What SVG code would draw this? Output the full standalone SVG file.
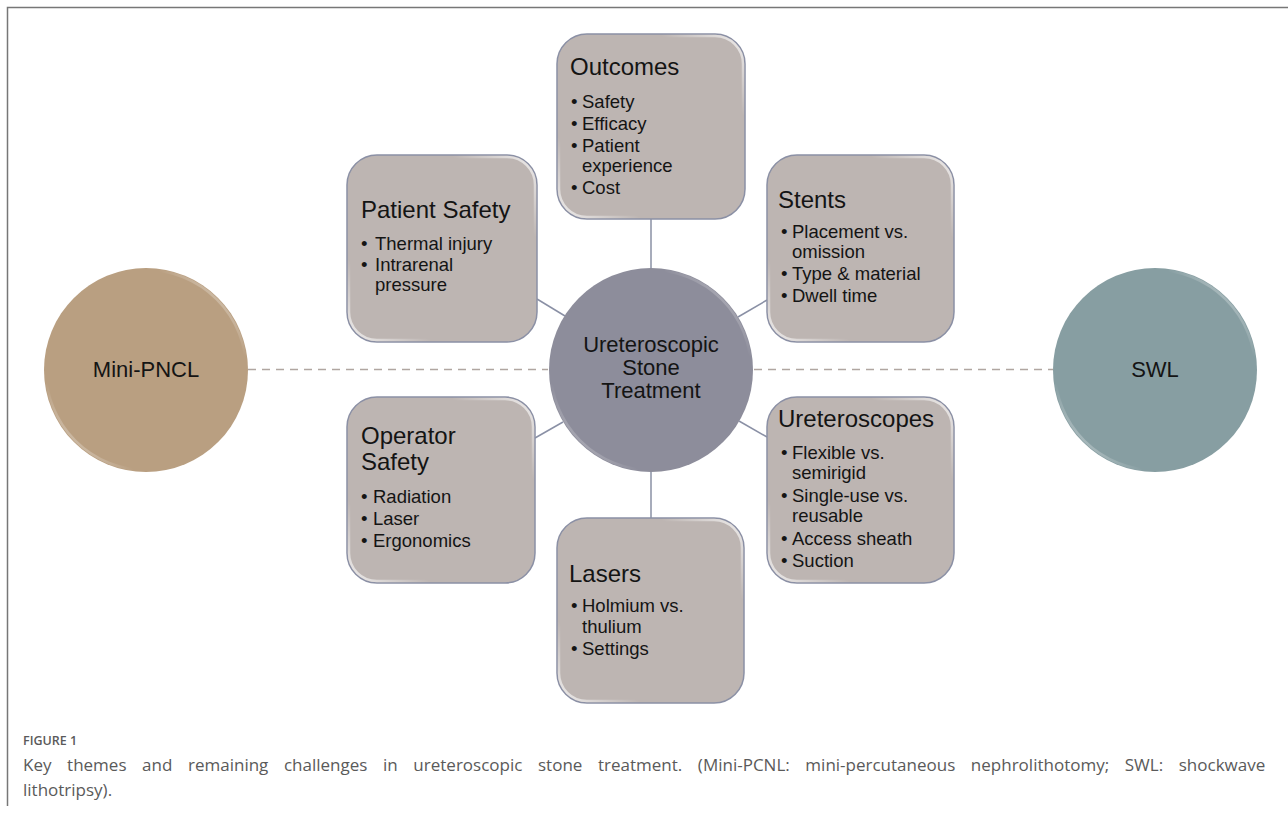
<svg xmlns="http://www.w3.org/2000/svg" width="1288" height="814" viewBox="0 0 1288 814">
  <defs>
    <!-- soft bevel sheen along the upper-right and lower-left rims -->
    <linearGradient id="sheen" x1="1" y1="0" x2="0" y2="1">
      <stop offset="0" stop-color="#ffffff" stop-opacity="0.75"/>
      <stop offset="0.22" stop-color="#ffffff" stop-opacity="0"/>
      <stop offset="0.78" stop-color="#ffffff" stop-opacity="0"/>
      <stop offset="1" stop-color="#ffffff" stop-opacity="0.75"/>
    </linearGradient>
    <style>
      .box { fill: #bdb5b2; stroke: #8b90a5; stroke-width: 1.5; }
      .rim { fill: none; stroke: url(#sheen); stroke-width: 2.5; }
      .ttl { font-family: "Liberation Sans", Arial, sans-serif; font-size: 24px; fill: #141414; }
      .bul { font-family: "Liberation Sans", Arial, sans-serif; font-size: 18.5px; fill: #141414; }
      .ctr { font-family: "Liberation Sans", Arial, sans-serif; font-size: 22px; fill: #141414; text-anchor: middle; }
      .link { stroke: #8a90a5; stroke-width: 1.5; fill: none; }
      .dash { stroke: #b0a6a1; stroke-width: 1.5; stroke-dasharray: 8 6; fill: none; }
      .cap { font-family: "Open Sans", "Liberation Sans", sans-serif; fill: #5a5a5a; }
    </style>
  </defs>

  <rect width="1288" height="814" fill="#ffffff"/>

  <!-- page frame -->
  <path d="M7.5 806 V7.5 H1288" fill="none" stroke="#777777" stroke-width="1.5"/>

  <!-- connectors -->
  <g id="connectors">
    <line class="dash" x1="248" y1="369.5" x2="548" y2="369.5"/>
    <line class="dash" x1="754" y1="369.5" x2="1053" y2="369.5"/>
    <line class="link" x1="651" y1="219" x2="651" y2="268"/>
    <line class="link" x1="651" y1="472" x2="651" y2="518"/>
    <line class="link" x1="537" y1="299" x2="565" y2="316"/>
    <line class="link" x1="767" y1="300" x2="738" y2="317"/>
    <line class="link" x1="535" y1="438" x2="563" y2="422"/>
    <line class="link" x1="767" y1="437" x2="739" y2="421"/>
  </g>

  <!-- side circles -->
  <g id="mini-pncl">
    <circle cx="146" cy="370" r="102" fill="#b99f81"/>
    <circle cx="146" cy="370" r="100" class="rim"/>
    <text class="ctr" x="146" y="377">Mini-PNCL</text>
  </g>
  <g id="swl">
    <circle cx="1155" cy="370" r="102" fill="#879ea2"/>
    <circle cx="1155" cy="370" r="100" class="rim"/>
    <text class="ctr" x="1155" y="377">SWL</text>
  </g>

  <!-- hub -->
  <g id="hub">
    <circle cx="651" cy="370" r="102" fill="#8d8d9b"/>
    <circle cx="651" cy="370" r="100" class="rim" stroke-opacity="0.8"/>
    <text class="ctr" x="651" y="352">Ureteroscopic</text>
    <text class="ctr" x="651" y="375">Stone</text>
    <text class="ctr" x="651" y="398">Treatment</text>
  </g>

  <!-- theme boxes -->
  <g id="outcomes">
    <rect class="box" x="557" y="34" width="188" height="185" rx="30"/>
    <rect class="rim" x="559" y="36" width="184" height="181" rx="28"/>
    <text class="ttl" x="570" y="75">Outcomes</text>
    <text class="bul" x="571" y="108">•</text><text class="bul" x="582" y="108">Safety</text>
    <text class="bul" x="571" y="130">•</text><text class="bul" x="582" y="130">Efficacy</text>
    <text class="bul" x="571" y="152">•</text><text class="bul" x="582" y="152">Patient</text>
    <text class="bul" x="582" y="172">experience</text>
    <text class="bul" x="571" y="194">•</text><text class="bul" x="582" y="194">Cost</text>
  </g>

  <g id="patient-safety">
    <rect class="box" x="347" y="155" width="190" height="187" rx="30"/>
    <rect class="rim" x="349" y="157" width="186" height="183" rx="28"/>
    <text class="ttl" x="361" y="218">Patient Safety</text>
    <text class="bul" x="361" y="250">•</text><text class="bul" x="375" y="250">Thermal injury</text>
    <text class="bul" x="361" y="271">•</text><text class="bul" x="375" y="271">Intrarenal</text>
    <text class="bul" x="375" y="291">pressure</text>
  </g>

  <g id="stents">
    <rect class="box" x="767" y="155" width="187" height="187" rx="30"/>
    <rect class="rim" x="769" y="157" width="183" height="183" rx="28"/>
    <text class="ttl" x="778" y="208">Stents</text>
    <text class="bul" x="781" y="238">•</text><text class="bul" x="792" y="238">Placement vs.</text>
    <text class="bul" x="792" y="258">omission</text>
    <text class="bul" x="781" y="280">•</text><text class="bul" x="792" y="280">Type &amp; material</text>
    <text class="bul" x="781" y="302">•</text><text class="bul" x="792" y="302">Dwell time</text>
  </g>

  <g id="operator-safety">
    <rect class="box" x="347" y="397" width="188" height="186" rx="30"/>
    <rect class="rim" x="349" y="399" width="184" height="182" rx="28"/>
    <text class="ttl" x="361" y="444">Operator</text>
    <text class="ttl" x="361" y="470">Safety</text>
    <text class="bul" x="361" y="503">•</text><text class="bul" x="373" y="503">Radiation</text>
    <text class="bul" x="361" y="525">•</text><text class="bul" x="373" y="525">Laser</text>
    <text class="bul" x="361" y="547">•</text><text class="bul" x="373" y="547">Ergonomics</text>
  </g>

  <g id="ureteroscopes">
    <rect class="box" x="767" y="397" width="187" height="186" rx="30"/>
    <rect class="rim" x="769" y="399" width="183" height="182" rx="28"/>
    <text class="ttl" x="778" y="427">Ureteroscopes</text>
    <text class="bul" x="781" y="459">•</text><text class="bul" x="792" y="459">Flexible vs.</text>
    <text class="bul" x="792" y="479">semirigid</text>
    <text class="bul" x="781" y="502">•</text><text class="bul" x="792" y="502">Single-use vs.</text>
    <text class="bul" x="792" y="522">reusable</text>
    <text class="bul" x="781" y="545">•</text><text class="bul" x="792" y="545">Access sheath</text>
    <text class="bul" x="781" y="567">•</text><text class="bul" x="792" y="567">Suction</text>
  </g>

  <g id="lasers">
    <rect class="box" x="557" y="518" width="187" height="185" rx="30"/>
    <rect class="rim" x="559" y="520" width="183" height="181" rx="28"/>
    <text class="ttl" x="569" y="582">Lasers</text>
    <text class="bul" x="571" y="612">•</text><text class="bul" x="582" y="612">Holmium vs.</text>
    <text class="bul" x="582" y="633">thulium</text>
    <text class="bul" x="571" y="655">•</text><text class="bul" x="582" y="655">Settings</text>
  </g>

  <!-- caption -->
  <g id="caption">
    <text class="cap" x="23" y="745" font-size="12.5" font-weight="600">FIGURE 1</text>
    <text class="cap" x="23" y="771" font-size="17" word-spacing="11.2">Key themes and remaining challenges in ureteroscopic stone treatment. (Mini-PCNL: mini-percutaneous nephrolithotomy; SWL: shockwave</text>
    <text class="cap" x="23" y="796" font-size="17">lithotripsy).</text>
  </g>
</svg>
